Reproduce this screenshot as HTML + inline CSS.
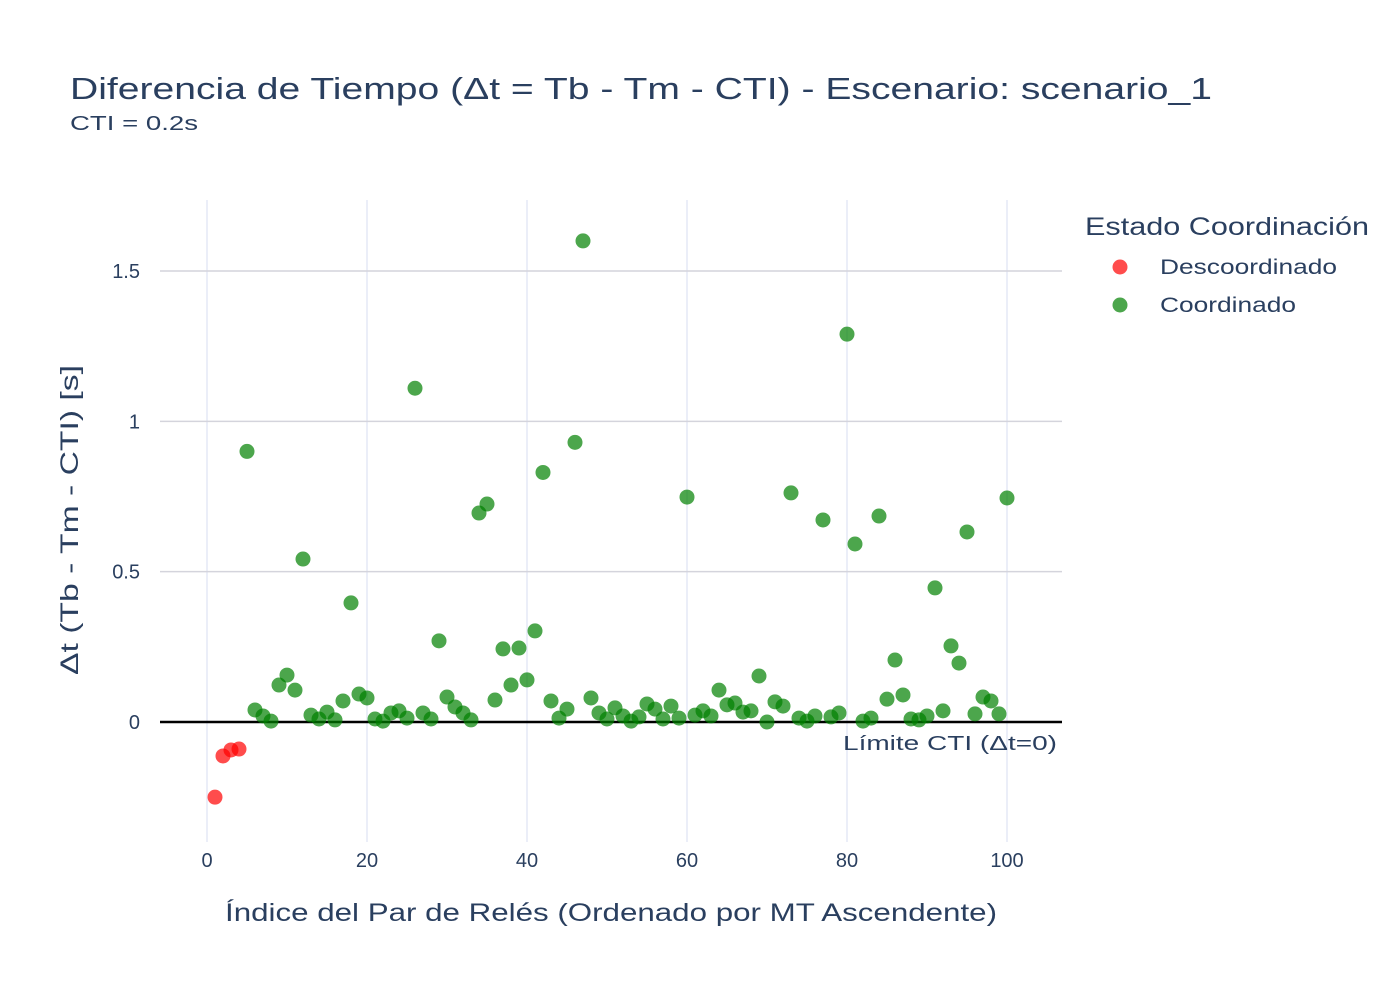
<!DOCTYPE html>
<html><head><meta charset="utf-8"><style>
body{margin:0;background:#fff}
svg text{font-family:"Liberation Sans",sans-serif;fill:#2a3f5f}
</style></head><body>
<svg id="chart" width="1400" height="1000" xmlns="http://www.w3.org/2000/svg">
<rect width="1400" height="1000" fill="#fff"/>
<text x="70" y="99" font-size="31" textLength="1142" lengthAdjust="spacingAndGlyphs">Diferencia de Tiempo (Δt = Tb - Tm - CTI) - Escenario: scenario_1</text>
<text x="70" y="130" font-size="20" textLength="128" lengthAdjust="spacingAndGlyphs">CTI = 0.2s</text>
<g id="grid"></g>
<g id="marks"></g>
<text x="843" y="750" font-size="20" textLength="214" lengthAdjust="spacingAndGlyphs">Límite CTI (Δt=0)</text>
<text x="225" y="921" font-size="25" textLength="772" lengthAdjust="spacingAndGlyphs">Índice del Par de Relés (Ordenado por MT Ascendente)</text>
<text transform="translate(78,520) rotate(-90)" font-size="25" text-anchor="middle" textLength="310" lengthAdjust="spacingAndGlyphs">Δt (Tb - Tm - CTI) [s]</text>
<g>
<text x="1085" y="235" font-size="25" textLength="284" lengthAdjust="spacingAndGlyphs">Estado Coordinación</text>
<g><circle cx="1120" cy="267" r="7.5" fill="rgba(255,0,0,0.7)"/><text x="1160" y="274" font-size="21" textLength="177" lengthAdjust="spacingAndGlyphs">Descoordinado</text></g>
<g><circle cx="1120" cy="305" r="7.5" fill="rgba(0,128,0,0.7)"/><text x="1160" y="312" font-size="21" textLength="136" lengthAdjust="spacingAndGlyphs">Coordinado</text></g>
</g>
</svg>
<script>
const yValues=[-0.25,-0.113,-0.093,-0.09,0.90,0.04,0.02,0.003,0.123,0.156,0.106,0.542,0.023,0.01,0.033,0.007,0.07,0.396,0.093,0.08,0.01,0.003,0.03,0.037,0.013,1.11,0.03,0.01,0.27,0.083,0.05,0.03,0.007,0.695,0.725,0.073,0.243,0.123,0.246,0.14,0.303,0.83,0.07,0.013,0.043,0.93,1.6,0.08,0.03,0.01,0.047,0.02,0.003,0.017,0.06,0.043,0.01,0.053,0.013,0.748,0.023,0.037,0.02,0.106,0.057,0.063,0.033,0.037,0.153,0.0,0.067,0.053,0.762,0.013,0.003,0.02,0.672,0.017,0.03,1.29,0.592,0.003,0.013,0.685,0.076,0.206,0.09,0.01,0.007,0.02,0.446,0.037,0.253,0.196,0.632,0.027,0.083,0.07,0.027,0.745];
const xTicks=[0,20,40,60,80,100];
const yTicks=[0,0.5,1,1.5];
const yTickLabels=["0","0.5","1","1.5"];
const NS="http://www.w3.org/2000/svg";
const L=160,R=1062,T=200,B=842;
const xs=v=>207+v*8;
const ys=v=>722-v*300.67;
const grid=document.getElementById('grid'),marks=document.getElementById('marks');
function mk(tag,attrs,parent){const e=document.createElementNS(NS,tag);for(const k in attrs)e.setAttribute(k,attrs[k]);parent.appendChild(e);return e;}
xTicks.forEach(t=>{
  const l=mk('line',{x1:xs(t),x2:xs(t),y1:T,y2:B,stroke:'#ebeef8','stroke-width':2},grid);
  
  
  const tx=mk('text',{x:xs(t),y:B+25,'font-size':20,'text-anchor':'middle'},grid);
  tx.textContent=t;
  
  
});
yTicks.forEach((t,i)=>{
  if(t!==0){const l=mk('line',{x1:L,x2:R,y1:ys(t),y2:ys(t),stroke:'#d4d4dc','stroke-width':1.5},grid);
  
  }
  const tx=mk('text',{x:L-20,y:ys(t)+7,'font-size':20,'text-anchor':'end'},grid);
  tx.textContent=yTickLabels[i];
  
  
});
const zl=mk('line',{x1:L,x2:R,y1:ys(0),y2:ys(0),stroke:'#000','stroke-width':2.5},grid);


yValues.forEach((v,i)=>{
  const c=mk('circle',{cx:xs(i+1),cy:ys(v),r:7.5,fill:v<0?'rgba(255,0,0,0.7)':'rgba(0,128,0,0.7)'},marks);
  
  
});
</script>
</body></html>
